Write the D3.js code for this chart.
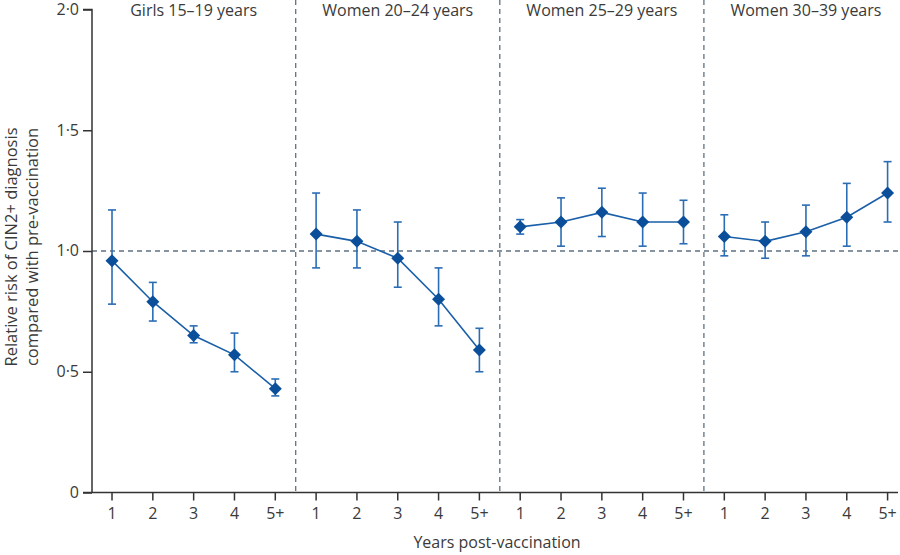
<!DOCTYPE html>
<html><head><meta charset="utf-8">
<script src="https://cdn.jsdelivr.net/npm/d3@7"></script>
<style>body{margin:0;background:#fff}svg{display:block}text{font-family:"Open Sans",sans-serif;fill:#3a3a3a}</style>
</head><body><svg id="c" width="900" height="555"></svg>
<script>
const panels = ["Girls 15–19 years","Women 20–24 years","Women 25–29 years","Women 30–39 years"];
const years = ["1","2","3","4","5+"];
const rr    = [[0.96,0.79,0.65,0.57,0.43],[1.07,1.04,0.97,0.80,0.59],[1.10,1.12,1.16,1.12,1.12],[1.06,1.04,1.08,1.14,1.24]];
const lower = [[0.78,0.71,0.62,0.50,0.40],[0.93,0.93,0.85,0.69,0.50],[1.07,1.02,1.06,1.02,1.03],[0.98,0.97,0.98,1.02,1.12]];
const upper = [[1.17,0.87,0.69,0.66,0.47],[1.24,1.17,1.12,0.93,0.68],[1.13,1.22,1.26,1.24,1.21],[1.15,1.12,1.19,1.28,1.37]];
const yTicks = [0,0.5,1,1.5,2];
const yTickLabels = ["0","0·5","1·0","1·5","2·0"];

const svg = d3.select("#c");
const mLeft = 92, mRight = 908, mTop = 9.5, mBottom = 492.5;
const keys = [];
panels.forEach((p,i)=>years.forEach(y=>keys.push(i+"|"+y)));
const x = d3.scaleBand().domain(keys).range([mLeft-0.4,mRight]).padding(0);
const y = d3.scaleLinear().domain([0,2]).range([mBottom,mTop]);
const cx = k => x(k)+x.bandwidth()/2;
const gridCol = "#5d7281";
const fs = "16px";

// reference line at 1.0
svg.append("line").attr("x1",mLeft).attr("x2",898).attr("y1",y(1)).attr("y2",y(1))
  .attr("stroke",gridCol).attr("stroke-width",1.3).attr("stroke-dasharray","5,4");
// panel separators
for(let i=1;i<panels.length;i++){
  const xs = x(i+"|1");
  svg.append("line").attr("x1",xs).attr("x2",xs).attr("y1",0).attr("y2",mBottom)
    .attr("stroke",gridCol).attr("stroke-width",1.3).attr("stroke-dasharray","5,4");
}
// y axis
const ya = svg.append("g").attr("transform",`translate(${mLeft},0)`)
  .call(d3.axisLeft(y).tickValues(yTicks).tickFormat((d,i)=>yTickLabels[i]).tickSize(9).tickPadding(4));
ya.select(".domain").attr("stroke","#333").attr("stroke-width",1.5).attr("d",`M-9,${y(2)}H0V${mBottom}`);
ya.selectAll(".tick line").attr("stroke","#333").attr("stroke-width",1.5);
ya.selectAll(".tick text").style("font-size",fs).attr("fill","#3a3a3a").attr("dy","0.3em");
// x axis
const xa = svg.append("g").attr("transform",`translate(0,${mBottom})`)
  .call(d3.axisBottom(x).tickFormat(k=>k.split("|")[1]).tickSize(8).tickPadding(7));
xa.select(".domain").attr("stroke","#333").attr("stroke-width",1.5).attr("d",`M83,0H898`);
xa.selectAll(".tick line").attr("stroke","#333").attr("stroke-width",1.5);
xa.selectAll(".tick text").style("font-size",fs).attr("fill","#3a3a3a");

// titles
panels.forEach((p,i)=>{
  const a = x(i+"|1"), b = x(i+"|5+")+x.bandwidth();
  svg.append("text").attr("x",(a+b)/2).attr("y",16).attr("text-anchor","middle")
    .style("font-size",fs).text(p);
});
svg.append("text").attr("x",497).attr("y",548).attr("text-anchor","middle").style("font-size",fs).text("Years post-vaccination");
const yl = svg.append("text").attr("transform",`translate(17,247) rotate(-90)`).attr("text-anchor","middle").style("font-size","16.5px");
yl.append("tspan").attr("x",0).attr("dy",0).text("Relative risk of CIN2+ diagnosis");
yl.append("tspan").attr("x",0).attr("dy",21).text("compared with pre-vaccination");

// data
const lineCol = "#1a5fa8", errCol = "#2a6db5", markCol = "#0b4f9b";
panels.forEach((p,i)=>{
  const pts = years.map((yr,j)=>({k:i+"|"+yr,v:rr[i][j],lo:lower[i][j],hi:upper[i][j]}));
  const g = svg.append("g");
  g.append("path").datum(pts).attr("fill","none").attr("stroke",lineCol).attr("stroke-width",1.6)
    .attr("d",d3.line().x(d=>cx(d.k)).y(d=>y(d.v)));
  const e = g.selectAll(".e").data(pts).join("g");
  e.append("line").attr("x1",d=>cx(d.k)).attr("x2",d=>cx(d.k)).attr("y1",d=>y(d.lo)).attr("y2",d=>y(d.hi)).attr("stroke",errCol).attr("stroke-width",1.6);
  e.append("line").attr("x1",d=>cx(d.k)-4).attr("x2",d=>cx(d.k)+4).attr("y1",d=>y(d.lo)).attr("y2",d=>y(d.lo)).attr("stroke",errCol).attr("stroke-width",1.6);
  e.append("line").attr("x1",d=>cx(d.k)-4).attr("x2",d=>cx(d.k)+4).attr("y1",d=>y(d.hi)).attr("y2",d=>y(d.hi)).attr("stroke",errCol).attr("stroke-width",1.6);
  g.selectAll(".m").data(pts).join("path").attr("fill",markCol)
    .attr("transform",d=>`translate(${cx(d.k)},${y(d.v)})`)
    .attr("d","M0,-6.5L6.5,0L0,6.5L-6.5,0Z");
});
</script></body></html>
